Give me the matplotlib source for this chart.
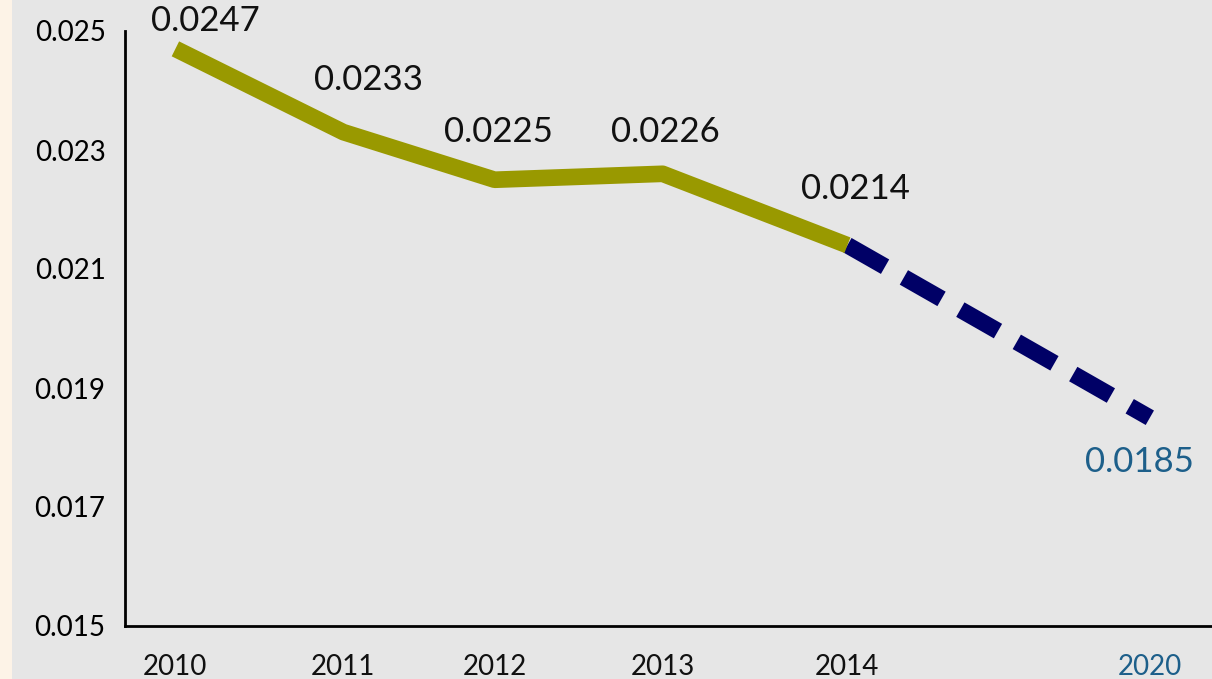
import matplotlib
matplotlib.use('Agg')
import matplotlib.pyplot as plt
from matplotlib.patches import Rectangle

plt.rcParams['font.family'] = ['Lato', 'DejaVu Sans']

# data
years = ['2010', '2011', '2012', '2013', '2014', '2020']
values = [0.0247, 0.0233, 0.0225, 0.0226, 0.0214, 0.0185]
xpos = [0, 1, 1.9, 2.9, 4, 5.8]   # uneven spacing, the gap to 2020 is wider
yticks = [0.015, 0.017, 0.019, 0.021, 0.023, 0.025]

# label offsets in pixels
offsets = [(30, 28), (25, 52), (4, 48), (3, 42), (8, 56), (-10, -44)]

bg = '#e6e6e6'
olive = '#999900'
navy = '#000066'
teal = '#1d5f8a'

fig = plt.figure(figsize=(12.12, 6.79), dpi=100, facecolor=bg)
fig.patches.append(Rectangle((0, 0), 12 / 1212, 1, transform=fig.transFigure,
                             facecolor='#fdf3e7', edgecolor='none', zorder=0))
ax = fig.add_axes([125 / 1212, 1 - 626 / 679, 1 - 125 / 1212, (626 - 31) / 679])
ax.set_facecolor(bg)

ax.plot(xpos[:5], values[:5], color=olive, lw=12, solid_capstyle='butt',
        solid_joinstyle='round', zorder=3)
ax.plot(xpos[4:], values[4:], color=navy, lw=12, dashes=(2.6, 1.3),
        dash_capstyle='butt', zorder=2)

for i, (x, v) in enumerate(zip(xpos, values)):
    c = teal if i == 5 else '#111111'
    ax.annotate(f'{v:.4f}', (x, v), xytext=offsets[i], textcoords='offset pixels',
                ha='center', va='center', fontsize=25, color=c,
                annotation_clip=False)

ax.set_xlim(-0.30, 6.17)
ax.set_ylim(0.015, 0.025)
ax.set_xticks(xpos)
ax.set_xticklabels(years)
ax.set_yticks(yticks)
ax.set_yticklabels([f'{t:.3f}' for t in yticks])
for lab in ax.get_xticklabels():
    lab.set_color(teal if lab.get_text() == '2020' else '#111111')
ax.tick_params(axis='both', length=0, labelsize=20)
ax.tick_params(axis='x', pad=20)
ax.tick_params(axis='y', pad=14)

for s in ['top', 'right']:
    ax.spines[s].set_visible(False)
for s in ['left', 'bottom']:
    ax.spines[s].set_linewidth(2)
    ax.spines[s].set_color('black')

fig.savefig('out.png', dpi=100, facecolor=bg)
